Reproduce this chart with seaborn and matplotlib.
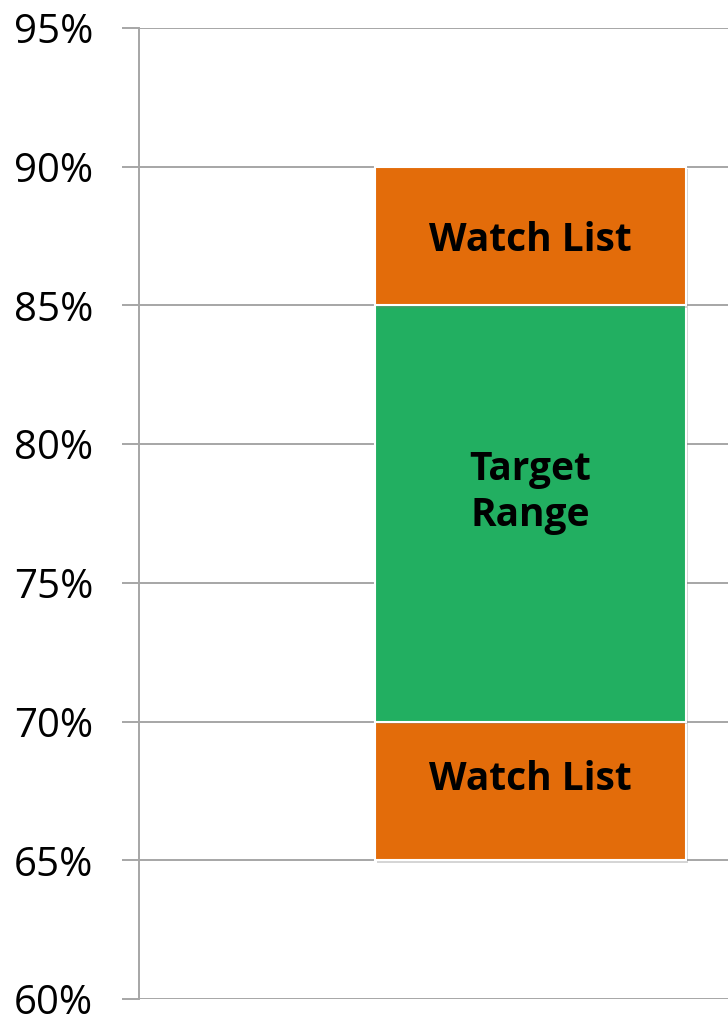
import pandas as pd
import matplotlib.pyplot as plt
import matplotlib.patheffects as pe
import seaborn as sns
from matplotlib.ticker import FuncFormatter

# ── DATA ───────────────────────────────────────────────
segments = ['Watch List', 'Target\nRange', 'Watch List']
seg_low = [65, 70, 85]
seg_high = [70, 85, 90]
seg_colors = ['#E36C0A', '#22AF61', '#E36C0A']
y_ticks = [60, 65, 70, 75, 80, 85, 90, 95]

# label anchors (a bit above the middle of each block, as in the original)
label_y = [67.9, 78.25, 87.35]

# ── STYLE ──────────────────────────────────────────────
sns.set_style('white')
plt.rcParams['font.family'] = ['Open Sans', 'DejaVu Sans']

fig = plt.figure(figsize=(7.28, 10.16), dpi=100)
ax = fig.add_axes([139 / 728, 17 / 1016, 589 / 728, 971 / 1016])

shadow = [pe.SimplePatchShadow(offset=(1.5, -2), shadow_rgbFace='#777777', alpha=0.3),
          pe.Normal()]

# ── BARS (stacked via bottom=) ─────────────────────────
for lo, hi, col in zip(seg_low, seg_high, seg_colors):
    df = pd.DataFrame({'cat': ['band'], 'h': [hi - lo]})
    sns.barplot(data=df, x='cat', y='h', bottom=lo, color=col, saturation=1,
                width=0.6, edgecolor='white', linewidth=1.5, ax=ax)

for p in ax.patches:
    p.set_path_effects(shadow)
    p.set_zorder(3)

for txt, y in zip(segments, label_y):
    ax.text(0, y, txt, ha='center', va='center', fontsize=28,
            fontweight='bold', color='black', linespacing=1.25, zorder=5)

# ── AXES ───────────────────────────────────────────────
ax.set_ylim(60, 95)
ax.set_xlim(-0.7553, 0.381)
ax.set_yticks(y_ticks)
ax.yaxis.set_major_formatter(FuncFormatter(lambda v, _: f'{v:.0f}%'))
ax.set_xticks([])
ax.set_xlabel('')
ax.set_ylabel('')
ax.grid(axis='y', color='#A6A6A6', linewidth=1.4, zorder=0)
ax.set_axisbelow(True)
for s in ['top', 'right', 'bottom']:
    ax.spines[s].set_visible(False)
ax.spines['left'].set_color('#A6A6A6')
ax.spines['left'].set_linewidth(1.4)
ax.tick_params(axis='y', which='major', left=True, length=12, width=1.4,
               color='#A6A6A6', labelsize=29, pad=21, labelcolor='black')

plt.savefig('out.png', dpi=100)
